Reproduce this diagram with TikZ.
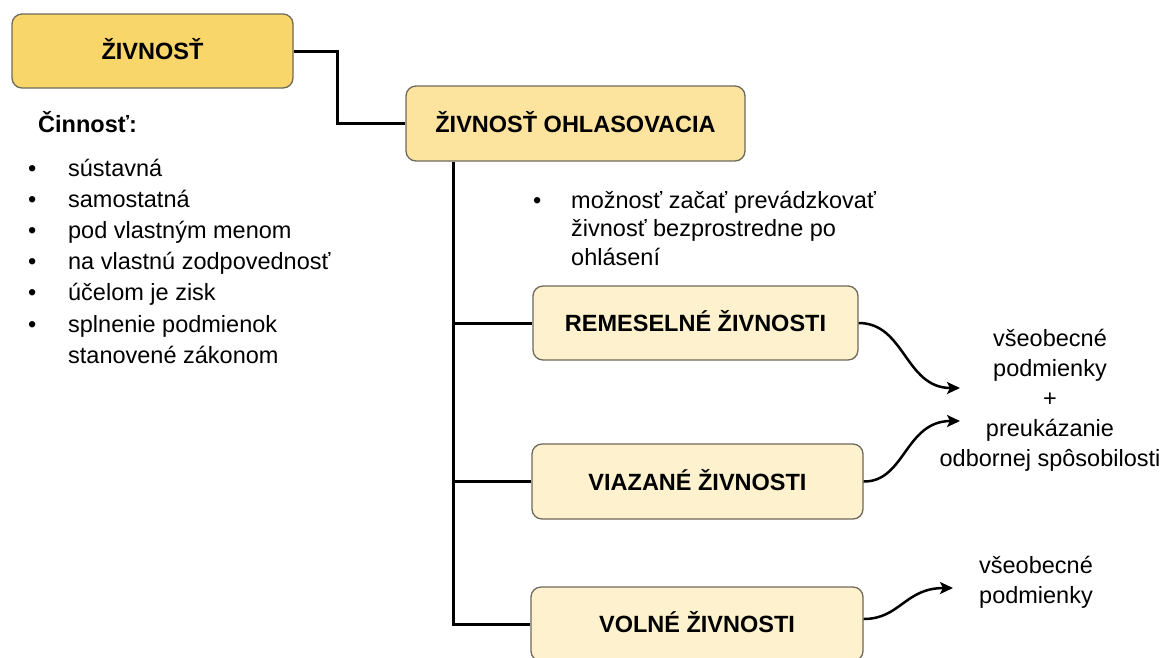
\documentclass[tikz,border=0pt]{standalone}
\usepackage{fontspec}
\setmainfont{Liberation Sans}
\usetikzlibrary{arrows.meta}
\definecolor{yA}{RGB}{249,214,106}
\definecolor{yB}{RGB}{252,228,158}
\definecolor{yC}{RGB}{254,242,206}
\definecolor{bord}{RGB}{110,105,90}
\begin{document}
\begin{tikzpicture}[x=1pt,y=-1pt,
  box/.style={draw=bord, line width=1.3pt, rounded corners=10pt, inner sep=0pt,
    text height=17pt, text depth=0pt, font=\bfseries\fontsize{23.5}{28}\selectfont},
  conn/.style={line width=3pt, black},
  arr/.style={line width=2.5pt, black, -{Stealth[length=13pt,width=12pt,inset=3pt]}},
  txt/.style={inner sep=0pt, font=\fontsize{23.5}{30}\selectfont}]
\useasboundingbox (0,0) rectangle (1167,657);

% boxes
\node[box, fill=yA, minimum width=281pt, minimum height=74pt] (b1) at (152.5,51) {ŽIVNOSŤ};
\node[box, fill=yB, minimum width=339pt, minimum height=75pt] (b2) at (575.5,123.5) {ŽIVNOSŤ OHLASOVACIA};
\node[box, fill=yC, minimum width=325pt, minimum height=74pt] (rem) at (695.5,323) {REMESELNÉ ŽIVNOSTI};
\node[box, fill=yC, minimum width=331pt, minimum height=75pt] (via) at (697.5,481.5) {VIAZANÉ ŽIVNOSTI};
\node[box, fill=yC, minimum width=332pt, minimum height=74pt] (vol) at (697,624) {VOLNÉ ŽIVNOSTI};

% texts
\node[txt, anchor=base west, font=\bfseries\fontsize{23.5}{30}\selectfont] (cin) at (38,132) {Činnosť:};
\node[txt, anchor=base west, font=\fontsize{23.5}{31.2}\selectfont] (list) at (32,176) {%
\begin{tabular}[t]{@{}l@{}}
\makebox[0pt]{•}\hspace{36pt}sústavná\\
\makebox[0pt]{•}\hspace{36pt}samostatná\\
\makebox[0pt]{•}\hspace{36pt}pod vlastným menom\\
\makebox[0pt]{•}\hspace{36pt}na vlastnú zodpovednosť\\
\makebox[0pt]{•}\hspace{36pt}účelom je zisk\\
\makebox[0pt]{•}\hspace{36pt}splnenie podmienok\\
\hspace{36pt}stanovené zákonom
\end{tabular}};
\node[txt, anchor=base west, font=\fontsize{23.5}{28.5}\selectfont] (moz) at (537,208) {%
\begin{tabular}[t]{@{}l@{}}
\makebox[0pt]{•}\hspace{34pt}možnosť začať prevádzkovať\\
\hspace{34pt}živnosť bezprostredne po\\
\hspace{34pt}ohlásení
\end{tabular}};
\node[txt, anchor=base] (req1) at (1050,346) {%
\begin{tabular}[t]{@{}c@{}}
všeobecné\\ podmienky\\ +\\ preukázanie\\ odbornej spôsobilosti
\end{tabular}};
\node[txt, anchor=base] (req2) at (1036,573) {%
\begin{tabular}[t]{@{}c@{}}
všeobecné\\ podmienky
\end{tabular}};

% connectors
\draw[conn] (b1.east) -- ++(44,0) |- (b2.west);
\coordinate (trunk) at (453,0);
\draw[conn] (trunk |- b2.south) |- (vol.west);
\draw[conn] (trunk |- rem.west) -- (rem.west);
\draw[conn] (trunk |- via.west) -- (via.west);

% arrows
\coordinate (t1) at (960,388);
\coordinate (t2) at (960,421);
\coordinate (t3) at (953,588);
\draw[arr] (rem.east) .. controls (905,323) and (905,388) .. (t1);
\draw[arr] (via.east) .. controls (905,482) and (905,421) .. (t2);
\draw[arr] ([yshift=5pt]vol.east) .. controls (900,619) and (905,588) .. (t3);
\end{tikzpicture}
\end{document}
